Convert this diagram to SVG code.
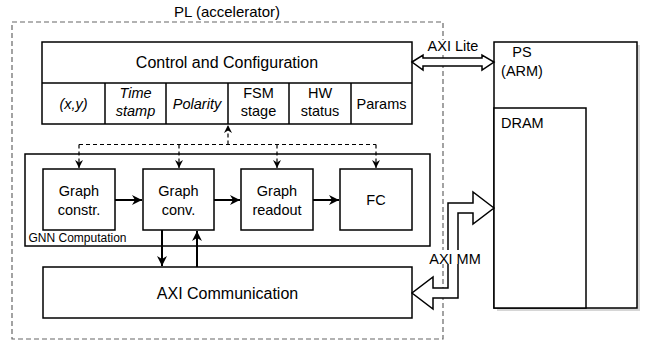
<svg xmlns="http://www.w3.org/2000/svg" width="650" height="343" viewBox="0 0 650 343">
<defs>
<style>
text{font-family:"Liberation Sans",Arial,sans-serif;fill:#000}
.box{fill:#fff;stroke:#000;stroke-width:1.5}
.t16{font-size:16px;text-anchor:middle}
.t14{font-size:14.5px;text-anchor:middle}
.it{font-style:italic}
.dash{fill:none;stroke:#000;stroke-width:1.2;stroke-dasharray:4 3}
.thick{fill:none;stroke:#000;stroke-width:2}
.blk{fill:#fff;stroke:#000;stroke-width:1.5;stroke-linejoin:miter}
</style>
<marker id="ah" markerUnits="userSpaceOnUse" markerWidth="11" markerHeight="10" refX="10" refY="5" orient="auto">
<path d="M0,0 L10,5 L0,10 L3,5 Z" fill="#000"/>
</marker>
<marker id="ahs" markerUnits="userSpaceOnUse" markerWidth="9" markerHeight="8" refX="8" refY="4" orient="auto">
<path d="M0,0 L8,4 L0,8 L2.4,4 Z" fill="#000"/>
</marker>
</defs>
<rect width="650" height="343" fill="#fff"/>

<g id="pl">
<rect x="12" y="22" width="431" height="317" fill="none" stroke="#666" stroke-width="1.2" stroke-dasharray="5 3"/>
<text x="227" y="17" class="t14" style="font-size:15px">PL (accelerator)</text>
</g>

<g id="control">
<rect class="box" x="42" y="42" width="370" height="82"/>
<line x1="42" y1="83" x2="412" y2="83" stroke="#000" stroke-width="1.5"/>
<g stroke="#000" stroke-width="1.5">
<line x1="105" y1="83" x2="105" y2="124"/>
<line x1="166" y1="83" x2="166" y2="124"/>
<line x1="228" y1="83" x2="228" y2="124"/>
<line x1="289" y1="83" x2="289" y2="124"/>
<line x1="351" y1="83" x2="351" y2="124"/>
</g>
<text x="227" y="68" class="t16">Control and Configuration</text>
<text x="73.5" y="108.5" class="t14 it">(x,y)</text>
<text x="135.5" y="98" class="t14 it">Time</text>
<text x="135.5" y="116" class="t14 it">stamp</text>
<text x="197" y="108.5" class="t14 it">Polarity</text>
<text x="258.5" y="98" class="t14">FSM</text>
<text x="258.5" y="116" class="t14">stage</text>
<text x="320" y="98" class="t14">HW</text>
<text x="320" y="116" class="t14">status</text>
<text x="381.5" y="108.5" class="t14">Params</text>
</g>

<g id="gnn">
<rect class="box" x="25" y="154" width="405" height="92"/>
<text x="28.5" y="241.5" style="font-size:12px">GNN Computation</text>
</g>

<g id="graph-constr">
<rect class="box" x="43" y="169" width="72" height="61"/>
<text x="79" y="195.5" class="t14">Graph</text>
<text x="79" y="215" class="t14">constr.</text>
</g>
<g id="graph-conv">
<rect class="box" x="143" y="169" width="71" height="61"/>
<text x="178.5" y="195.5" class="t14">Graph</text>
<text x="178.5" y="215" class="t14">conv.</text>
</g>
<g id="graph-readout">
<rect class="box" x="241" y="169" width="72" height="61"/>
<text x="277" y="195.5" class="t14">Graph</text>
<text x="277" y="215" class="t14">readout</text>
</g>
<g id="fc">
<rect class="box" x="340" y="169" width="72" height="61"/>
<text x="376" y="205" class="t14">FC</text>
</g>

<g id="axi-comm">
<rect class="box" x="43" y="267" width="369" height="51"/>
<text x="227.5" y="299" class="t16">AXI Communication</text>
</g>

<g id="ps">
<rect x="497" y="45" width="143" height="266" fill="#bbb" opacity="0.6"/>
<rect class="box" x="494" y="42" width="143" height="266"/>
<text x="522" y="57" class="t14">PS</text>
<text x="522" y="76" class="t14">(ARM)</text>
</g>
<g id="dram">
<rect class="box" x="494" y="108" width="92" height="200"/>
<text x="501" y="128" style="font-size:14.5px">DRAM</text>
</g>

<g id="connectors">
<polyline class="dash" points="79,144.5 376,144.5"/>
<line class="dash" x1="79" y1="144.5" x2="79" y2="168" marker-end="url(#ahs)"/>
<line class="dash" x1="179" y1="144.5" x2="179" y2="168" marker-end="url(#ahs)"/>
<line class="dash" x1="277" y1="144.5" x2="277" y2="168" marker-end="url(#ahs)"/>
<line class="dash" x1="376" y1="144.5" x2="376" y2="168" marker-end="url(#ahs)"/>
<line class="dash" x1="228" y1="144.5" x2="228" y2="125" marker-end="url(#ahs)"/>

<line class="thick" x1="115" y1="200" x2="142" y2="200" marker-end="url(#ah)"/>
<line class="thick" x1="214" y1="200" x2="240" y2="200" marker-end="url(#ah)"/>
<line class="thick" x1="313" y1="200" x2="339" y2="200" marker-end="url(#ah)"/>

<line class="thick" x1="162" y1="230" x2="162" y2="266" marker-end="url(#ah)"/>
<line class="thick" x1="197" y1="267" x2="197" y2="231" marker-end="url(#ah)"/>

<polygon class="blk" points="412,62 423,55 423,58 482,58 482,55 494,62 482,70 482,66 423,66 423,70"/>
<rect x="427" y="40" width="52" height="14" fill="#fff"/>
<text x="453" y="51" class="t14">AXI Lite</text>

<polygon class="blk" points="494,208 473,192 473,203 448,203 448,288 433,288 433,277 412,293 433,309 433,298 458,298 458,213 473,213 473,224"/>
<rect x="428" y="250" width="54" height="14" fill="#fff"/>
<text x="455" y="264" class="t14">AXI MM</text>
</g>
</svg>
